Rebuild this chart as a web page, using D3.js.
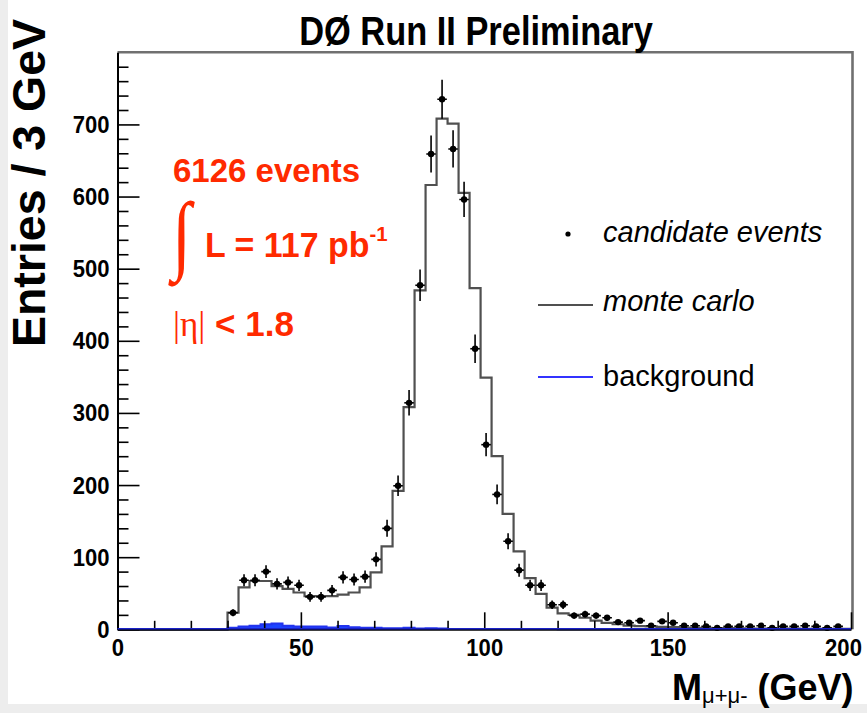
<!DOCTYPE html>
<html>
<head>
<meta charset="utf-8">
<script src="https://cdn.jsdelivr.net/npm/d3@7"></script>
<style>
  html, body { margin: 0; padding: 0; background: #ececec; }
  svg { display: block; }
</style>
</head>
<body>
<svg id="chart" width="867" height="713"></svg>
<script>
// Dimuon invariant mass, 3 GeV bins from 0 GeV.
const binWidth = 3;

// Monte Carlo prediction per bin (bins 0..66)
const mcCounts = [
  0, 0, 0, 0, 0, 0, 0, 0, 0, 0,
  23, 58, 67, 67, 60, 56, 51, 46, 46, 46,
  48, 51, 58, 79, 115, 192, 308, 470, 616, 708,
  701, 605, 473, 349, 240, 160, 108, 71, 49, 30,
  22, 20, 16, 12, 9, 7, 5, 4.5, 4, 3.5,
  3, 2.5, 2, 2, 1.5, 1.5, 1.2, 1, 1, 1,
  0.8, 0.8, 0.7, 0.6, 0.6, 0.5, 0.5
];

// Background estimate per bin
const bkgCounts = [
  0, 0, 0, 0, 0, 0, 0, 0, 0, 0,
  2, 4, 5, 7, 8, 5, 4, 4, 4, 2.5,
  4.5, 3, 2, 2, 1.5, 1.5, 2, 1, 1.5, 1,
  0.5, 0.5, 0.5, 0.5, 0.5, 0.3, 0.3, 0.3, 0.3, 0.3,
  0, 0, 0, 0, 0, 0, 0, 0, 0, 0,
  0, 0, 0, 0, 0, 0, 0, 0, 0, 0,
  0, 0, 0, 0, 0, 0, 0
];

// Candidate events per bin (null = empty bin)
const dataCounts = [
  null, null, null, null, null, null, null, null, null, null,
  23, 68, 68, 80, 63, 65, 61, 45, 45, 54,
  72, 69, 73, 97, 140, 199, 314, 477, 659, 735,
  666, 596, 389, 256, 187, 122, 82, 61, 61, 34,
  34, 19, 21, 19, 16, 10, 9, 12, 5, 11,
  9, 5, 5, 4, 2, 4, 4, 4, 5, 2,
  4, 4, 5, 4, 2, 4, null
];

const xMajorTicks = [0, 50, 100, 150, 200];
const yMajorTicks = [0, 100, 200, 300, 400, 500, 600, 700];

const titleText = "D\u00D8 Run II Preliminary";
const yTitle = "Entries / 3 GeV";
const legendLabels = ["candidate events", "monte carlo", "background"];

const svg = d3.select("#chart");

// page: light grey border, white drawing area
svg.append("rect").attr("x", 0).attr("y", 0).attr("width", 867).attr("height", 713).attr("fill", "#ededed");
svg.append("rect").attr("x", 8).attr("y", 0).attr("width", 859).attr("height", 704).attr("fill", "#ffffff");

const frame = { left: 117.5, right: 851, top: 52.3, bottom: 629.3 };
const x = d3.scaleLinear().domain([0, 200]).range([frame.left, frame.right]);
const y = d3.scaleLinear().domain([0, 800]).range([frame.bottom, frame.top]);

const SANS = "'Liberation Sans', Arial, Helvetica, sans-serif";
const SERIF = "'Liberation Serif', 'DejaVu Serif', serif";
const RED = "#ff2a00";

function label(px, py, txt, o) {
  return svg.append("text")
    .attr("transform", `translate(${px},${py}) scale(${o.sx || 1},${o.sy || 1})${o.rot ? ` rotate(${o.rot})` : ""}`)
    .attr("font-family", o.family || SANS)
    .attr("font-size", o.size)
    .attr("font-weight", o.weight || "normal")
    .attr("font-style", o.style || "normal")
    .attr("text-anchor", o.anchor || "start")
    .attr("fill", o.fill || "#000")
    .text(txt);
}

svg.append("clipPath").attr("id", "plotclip")
  .append("rect").attr("x", frame.left).attr("y", frame.top)
  .attr("width", frame.right - frame.left).attr("height", frame.bottom - frame.top + 2);

const plot = svg.append("g").attr("clip-path", "url(#plotclip)");

// step outline for a histogram
function stepPoints(counts) {
  const pts = [[0, 0]];
  counts.forEach((v, i) => {
    pts.push([i * binWidth, v]);
    pts.push([(i + 1) * binWidth, v]);
  });
  return pts;
}
const stepLine = d3.line().x(d => x(d[0])).y(d => y(d[1]));

// background (filled)
const bkgArea = d3.area().x(d => x(d[0])).y0(y(0)).y1(d => y(d[1]));
plot.append("path")
  .attr("d", bkgArea(stepPoints(bkgCounts)))
  .attr("fill", "#1c44ff");

// Monte Carlo histogram
plot.append("path")
  .attr("d", stepLine(stepPoints(mcCounts)))
  .attr("fill", "none")
  .attr("stroke", "#505050")
  .attr("stroke-width", 2.2);

// background outline
plot.append("path")
  .attr("d", stepLine(stepPoints(bkgCounts)))
  .attr("fill", "none")
  .attr("stroke", "#2233ee")
  .attr("stroke-width", 2);

// candidate events with errors
const evts = dataCounts.map((v, i) => ({ c: (i + 0.5) * binWidth, v })).filter(d => d.v !== null);
const pg = plot.append("g");
evts.forEach(d => {
  const e = Math.sqrt(d.v);
  pg.append("line").attr("x1", x(d.c)).attr("x2", x(d.c))
    .attr("y1", y(d.v - e)).attr("y2", y(d.v + e))
    .attr("stroke", "#000").attr("stroke-width", 1.6);
  pg.append("line").attr("x1", x(d.c - 1.3)).attr("x2", x(d.c + 1.3))
    .attr("y1", y(d.v)).attr("y2", y(d.v))
    .attr("stroke", "#000").attr("stroke-width", 1.6);
  pg.append("circle").attr("cx", x(d.c)).attr("cy", y(d.v)).attr("r", 3.2).attr("fill", "#000");
});

// frame: grey top and right edges
svg.append("path")
  .attr("d", `M${frame.left},${frame.top}H${frame.right + 1.5}V${frame.bottom}`)
  .attr("fill", "none").attr("stroke", "#707070").attr("stroke-width", 2.6);

// axes
const yMinor = d3.range(0, 801, 20).filter(v => v % 100 !== 0);
const yMinorAxis = d3.axisLeft(y).tickValues(yMinor).tickSize(-11).tickFormat("");
const yAxis = d3.axisLeft(y).tickValues(yMajorTicks).tickSizeInner(-22).tickSizeOuter(0).tickPadding(0).tickFormat(d3.format("d"));
const xMinor = d3.range(0, 201, 10).filter(v => v % 50 !== 0);
const xMinorAxis = d3.axisBottom(x).tickValues(xMinor).tickSize(-8.5).tickFormat("");
const xAxis = d3.axisBottom(x).tickValues(xMajorTicks).tickSizeInner(-17).tickSizeOuter(0).tickPadding(0).tickFormat(d3.format("d"));

function styleAxis(g) {
  g.select(".domain").attr("stroke", "#000").attr("stroke-width", 2);
  g.selectAll(".tick line").attr("stroke", "#000").attr("stroke-width", 1.6);
}

const gyMinor = svg.append("g").attr("transform", `translate(${frame.left},0)`).call(yMinorAxis);
gyMinor.select(".domain").remove();
gyMinor.selectAll(".tick line").attr("stroke", "#000").attr("stroke-width", 1.6);
const gxMinor = svg.append("g").attr("transform", `translate(0,${frame.bottom})`).call(xMinorAxis);
gxMinor.select(".domain").remove();
gxMinor.selectAll(".tick line").attr("stroke", "#000").attr("stroke-width", 1.6);

const gy = svg.append("g").attr("transform", `translate(${frame.left},0)`).call(yAxis);
styleAxis(gy);
gy.selectAll(".tick text")
  .attr("x", null).attr("dy", null)
  .attr("transform", "translate(-8,8) scale(0.92,1)")
  .attr("text-anchor", "end")
  .attr("font-family", SANS).attr("font-weight", "bold").attr("font-size", 24).attr("fill", "#000");

const gx = svg.append("g").attr("transform", `translate(0,${frame.bottom})`).call(xAxis);
styleAxis(gx);
gx.selectAll(".tick text")
  .attr("y", null).attr("dy", null)
  .attr("transform", d => `translate(${d === 200 ? -8 : 0},27) scale(0.92,1)`)
  .attr("text-anchor", "middle")
  .attr("font-family", SANS).attr("font-weight", "bold").attr("font-size", 24).attr("fill", "#000");

// blue baseline across the full range
svg.append("line").attr("x1", frame.left).attr("x2", frame.right)
  .attr("y1", frame.bottom - 0.5).attr("y2", frame.bottom - 0.5)
  .attr("stroke", "#1a22c8").attr("stroke-width", 1.6);

// title
label(476, 45, titleText, { size: 40, weight: "bold", anchor: "middle", sx: 0.86 });

// y-axis title
label(45, 183, yTitle, { size: 46.5, weight: "bold", anchor: "middle", rot: -90 });

// x-axis title: M with mu+mu- subscript and (GeV)
const xt = svg.append("text")
  .attr("transform", "translate(672,700)")
  .attr("font-family", SANS).attr("font-weight", "bold").attr("font-size", 36).attr("fill", "#000");
xt.append("tspan").text("M");
xt.append("tspan").attr("font-size", 22).attr("font-weight", "normal").attr("dy", 3).text("\u03BC+\u03BC-");
xt.append("tspan").attr("dy", -3).text(" (GeV)");

// red annotations
label(173, 182, "6126 events", { size: 33, weight: "bold", fill: RED });
label(172, 263, "\u222B", { size: 70, family: SERIF, fill: RED, sy: 1.25 });
const lum = svg.append("text")
  .attr("transform", "translate(205,257) scale(0.97,1)")
  .attr("font-family", SANS).attr("font-weight", "bold").attr("font-size", 35).attr("fill", RED);
lum.append("tspan").text("L = 117 pb");
lum.append("tspan").attr("font-size", 21).attr("dy", -16).text("-1");
const eta = svg.append("text")
  .attr("transform", "translate(173,336)")
  .attr("font-size", 35).attr("fill", RED);
eta.append("tspan").attr("font-family", SERIF).text("|\u03B7|");
eta.append("tspan").attr("font-family", SANS).attr("font-weight", "bold").text(" < 1.8");

// legend
svg.append("circle").attr("cx", 568).attr("cy", 234).attr("r", 2.6).attr("fill", "#000");
label(603, 242, legendLabels[0], { size: 29, style: "italic" });
svg.append("line").attr("x1", 538).attr("x2", 593).attr("y1", 305).attr("y2", 305)
  .attr("stroke", "#505050").attr("stroke-width", 2);
label(603, 311, legendLabels[1], { size: 29, style: "italic" });
svg.append("line").attr("x1", 538).attr("x2", 593).attr("y1", 377).attr("y2", 377)
  .attr("stroke", "#3333ff").attr("stroke-width", 2);
label(603, 386, legendLabels[2], { size: 29 });
</script>
</body>
</html>
